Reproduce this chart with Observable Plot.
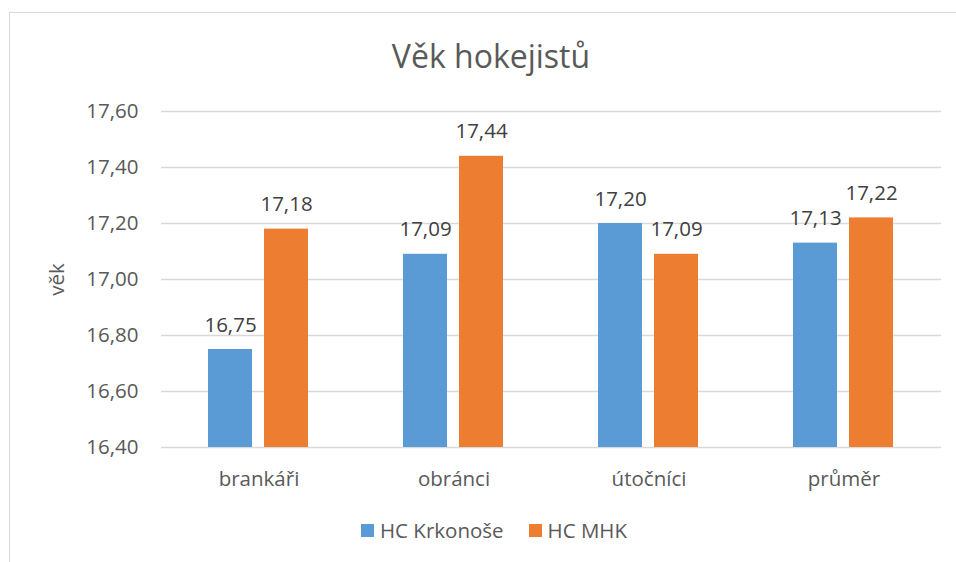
<!DOCTYPE html>
<html>
<head>
<meta charset="utf-8">
<script src="https://cdn.jsdelivr.net/npm/d3@7"></script>
<script src="https://cdn.jsdelivr.net/npm/@observablehq/plot@0.6"></script>
<style>
  html, body { margin: 0; padding: 0; background: #fff; }
  #wrap { position: relative; width: 956px; height: 562px; overflow: hidden; font-family: 'Open Sans', sans-serif; color: #595959; }
  #frame { position: absolute; left: 9px; top: 12px; width: 1000px; height: 600px; border-left: 1.5px solid #d9d9d9; border-top: 1.5px solid #d9d9d9; }
  #title { position: absolute; left: 0; top: 40px; width: 982px; text-align: center; font-size: 32px; line-height: 1; color: #595959; }
  #chart { position: absolute; left: 0; top: 90px; }
  #legend { position: absolute; left: 361px; top: 520px; display: flex; align-items: center; font-size: 20.5px; line-height: 1; color: #595959; }
  .sw { width: 13px; height: 13px; display: inline-block; margin-right: 6px; }
  .item { display: flex; align-items: center; margin-right: 25px; }
</style>
</head>
<body>
<div id="wrap">
  <div id="frame"></div>
  <div id="title">Věk hokejistů</div>
  <div id="chart"></div>
  <div id="legend"></div>
</div>
<script>
const categories = ["brankáři", "obránci", "útočníci", "průměr"];
const series = ["HC Krkonoše", "HC MHK"];
const krkonose = [16.75, 17.09, 17.20, 17.13];
const mhk = [17.18, 17.44, 17.09, 17.22];
const yTicks = [16.4, 16.6, 16.8, 17.0, 17.2, 17.4, 17.6];
const colors = ["#5B9BD5", "#ED7D31"];
const yLabel = "věk";

const values = [krkonose, mhk];
const data = [];
categories.forEach((c, i) => {
  series.forEach((s, j) => data.push({category: c, series: s, value: values[j][i]}));
});

const fmt = v => d3.format(".2f")(v).replace(".", ",");
const yBase = yTicks[0];

const chart = Plot.plot({
  width: 956,
  height: 410,
  marginTop: 21,
  marginBottom: 53,
  marginLeft: 161,
  marginRight: 15,
  style: {fontFamily: "'Open Sans', sans-serif", fontSize: "20.5px", color: "#595959", background: "transparent", overflow: "visible"},
  fx: {domain: categories, padding: 0, label: null},
  x: {domain: series, paddingInner: 0.214, paddingOuter: 0.848, axis: null},
  y: {domain: [yTicks[0], yTicks[yTicks.length - 1]]},
  color: {domain: series, range: colors},
  marks: [
    Plot.ruleY(yTicks, {stroke: "#d9d9d9", strokeWidth: 1.5}),
    Plot.barY(data, {fx: "category", x: "series", y1: () => yBase, y2: "value", fill: "series"}),
    Plot.text(data, {fx: "category", x: "series", y: "value", text: d => fmt(d.value), dy: -18, lineAnchor: "bottom", fill: "#404040", fontSize: 20.5}),
    Plot.axisY({ticks: yTicks, tickFormat: fmt, tickSize: 0, tickPadding: 23, label: yLabel, labelAnchor: "center", labelArrow: "none", labelOffset: 112, fill: "#595959"}),
    Plot.axisFx({anchor: "bottom", tickSize: 0, tickPadding: 24, label: null, fill: "#595959"})
  ]
});
document.getElementById("chart").appendChild(chart);

const legend = document.getElementById("legend");
series.forEach((s, j) => {
  const item = document.createElement("div");
  item.className = "item";
  const sw = document.createElement("span");
  sw.className = "sw";
  sw.style.background = colors[j];
  const t = document.createElement("span");
  t.textContent = s;
  item.appendChild(sw);
  item.appendChild(t);
  legend.appendChild(item);
});
</script>
</body>
</html>
